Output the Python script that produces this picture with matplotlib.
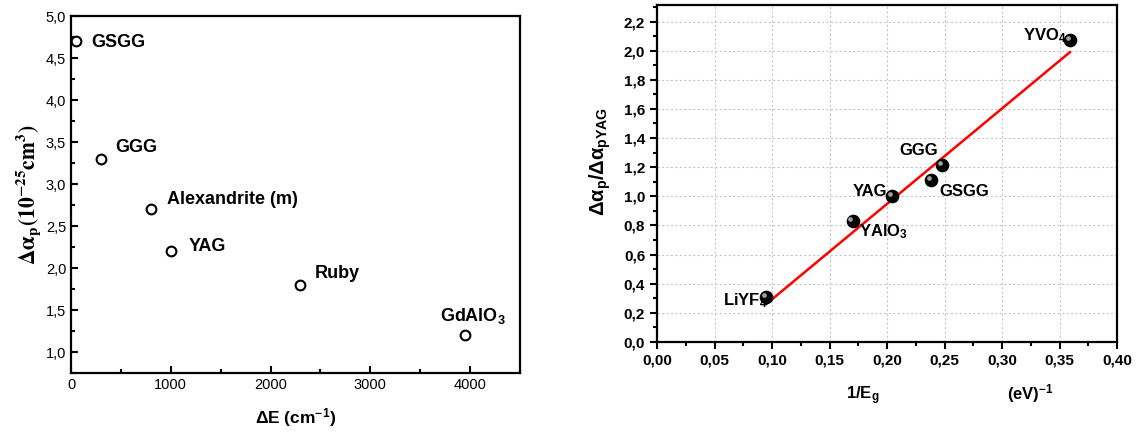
#!/usr/bin/env python3
"""
Two-panel figure: polarizability difference vs energy gap.
Left: delta alpha_p vs Delta E (open circles, labelled crystals)
Right: normalised delta alpha_p vs 1/Eg with linear fit
"""

import numpy as np
import matplotlib.pyplot as plt
from matplotlib.ticker import MultipleLocator, FuncFormatter
from matplotlib.transforms import ScaledTranslation

plt.rcParams['font.family'] = ['Liberation Sans', 'DejaVu Sans']
plt.rcParams['mathtext.fontset'] = 'custom'
plt.rcParams['mathtext.rm'] = 'Liberation Sans'
plt.rcParams['mathtext.bf'] = 'Liberation Sans:bold'
plt.rcParams['mathtext.it'] = 'Liberation Sans:italic'

# left panel data
left_names = ['GSGG', 'GGG', 'Alexandrite (m)', 'YAG', 'Ruby', r'GdAlO$_\mathbf{3}$']
dE = [50, 300, 800, 1000, 2300, 3950]
d_alpha = [4.7, 3.3, 2.7, 2.2, 1.8, 1.2]
# label offsets in points (left edge, baseline)
left_offsets = [(11, -4), (10.5, 5), (11.5, 4), (13, 0), (10, 5), (-18, 10)]

# right panel data
right_names = [r'LiYF$_\mathbf{4}$', r'YAlO$_\mathbf{3}$', 'YAG', 'GSGG', 'GGG', r'YVO$_\mathbf{4}$']
inv_eg = [0.095, 0.170, 0.204, 0.238, 0.248, 0.359]
ratio = [0.31, 0.83, 1.00, 1.11, 1.215, 2.07]
right_offsets = [(1, -6), (5, -11), (-3.5, 0), (6.5, -11.5), (-3, 7.5), (-2, 0)]
right_align = ['right', 'left', 'right', 'left', 'right', 'right']
fit_slope = 6.55
fit_intercept = -0.362


def comma_fmt(decimals):
    return FuncFormatter(lambda v, p: f'{v:.{decimals}f}'.replace('.', ','))


def main():
    fig = plt.figure(figsize=(11.37, 4.32), dpi=100)
    W, H = 1137, 432

    # ---- left panel
    ax1 = fig.add_axes([71 / W, 1 - 373 / H, (520 - 71) / W, (373 - 16) / H])
    ax1.plot(dE, d_alpha, 'o', mfc='white', mec='black', ms=7, mew=1.5)
    for name, x, y, off in zip(left_names, dE, d_alpha, left_offsets):
        ax1.annotate(name, (x, y), xytext=off, textcoords='offset points',
                     ha='left', va='baseline', fontsize=13, fontweight='bold')
    ax1.set_xlim(0, 4500)
    ax1.set_ylim(0.75, 5.0)
    ax1.xaxis.set_major_locator(MultipleLocator(1000))
    ax1.xaxis.set_minor_locator(MultipleLocator(500))
    ax1.yaxis.set_major_locator(MultipleLocator(0.5))
    ax1.yaxis.set_minor_locator(MultipleLocator(0.25))
    ax1.yaxis.set_major_formatter(comma_fmt(1))
    ax1.tick_params(which='both', direction='in', labelsize=10.5, width=1.5)
    ax1.tick_params(which='major', length=5)
    ax1.tick_params(which='minor', length=3)
    for s in ax1.spines.values():
        s.set_linewidth(1.6)
    ax1.set_xlabel(r'$\mathbf{\Delta}$E (cm$^{\mathbf{-1}}$)', fontsize=12.5,
                   fontweight='bold', labelpad=10)
    ax1.set_ylabel(r'$\mathbf{\Delta\alpha_p(10^{-25}cm^3)}$', fontsize=15.5, labelpad=2)
    ax1.yaxis.label.set_math_fontfamily('stix')

    # ---- right panel
    ax2 = fig.add_axes([657 / W, 1 - 342 / H, (1117 - 657) / W, (342 - 5.5) / H])
    ax2.grid(True, which='major', color='#c8c8c8', linestyle=(0, (2, 2)), linewidth=0.8)
    ax2.set_axisbelow(True)
    xf = np.array([inv_eg[0], inv_eg[-1]])
    ax2.plot(xf, fit_slope * xf + fit_intercept, color='red', lw=1.8, zorder=2)
    ax2.plot(inv_eg, ratio, 'o', color='black', ms=8.8, zorder=3)
    hl = ax2.transData + ScaledTranslation(-1.5 / 72, 1.5 / 72, fig.dpi_scale_trans)
    ax2.plot(inv_eg, ratio, 'o', color='#a0a0a0', ms=3.4, mew=0, zorder=4, transform=hl)
    for name, x, y, off, ha in zip(right_names, inv_eg, ratio, right_offsets, right_align):
        ax2.annotate(name, (x, y), xytext=off, textcoords='offset points',
                     ha=ha, va='baseline', fontsize=12, fontweight='bold', zorder=5)
    ax2.set_xlim(0, 0.40)
    ax2.set_ylim(0, 2.31)
    ax2.xaxis.set_major_locator(MultipleLocator(0.05))
    ax2.xaxis.set_minor_locator(MultipleLocator(0.025))
    ax2.yaxis.set_major_locator(MultipleLocator(0.2))
    ax2.yaxis.set_minor_locator(MultipleLocator(0.1))
    ax2.xaxis.set_major_formatter(comma_fmt(2))
    ax2.yaxis.set_major_formatter(comma_fmt(1))
    ax2.tick_params(which='both', direction='out', labelsize=11, width=1.5)
    ax2.tick_params(which='major', length=5)
    ax2.tick_params(which='minor', length=3)
    for lab in ax2.get_xticklabels() + ax2.get_yticklabels():
        lab.set_fontweight('bold')
    for s in ax2.spines.values():
        s.set_linewidth(1.6)
    ax2.set_ylabel(r'$\mathbf{\Delta\alpha_p/\Delta\alpha_{pYAG}}$', fontsize=14.5, labelpad=3)
    ax2.yaxis.set_label_coords(-0.095, (342 - 161) / (342 - 5.5))
    fig.text(863 / W, 1 - 396 / H, r'1/E$_\mathbf{g}$', fontsize=12, fontweight='bold',
             ha='center', va='center')
    fig.text(1030 / W, 1 - 394 / H, r'(eV)$^{\mathbf{-1}}$', fontsize=12, fontweight='bold',
             ha='center', va='center')

    fig.savefig('out.png', dpi=100)


if __name__ == '__main__':
    main()
